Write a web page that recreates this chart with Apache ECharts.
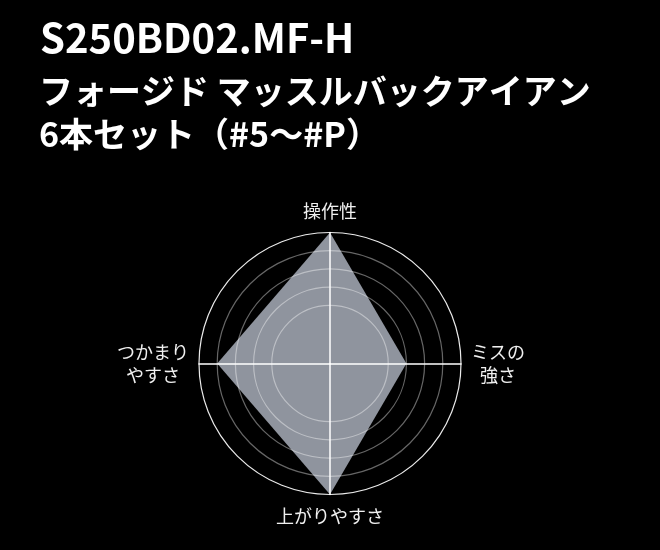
<!DOCTYPE html>
<html>
<head>
<meta charset="utf-8">
<script src="https://cdn.jsdelivr.net/npm/echarts@6/dist/echarts.min.js"></script>
<style>
html,body{margin:0;padding:0;background:#000;}
#chart{width:660px;height:550px;}
</style>
</head>
<body>
<div id="chart"></div>
<script>
var titleLines = ['S250BD02.MF-H', 'フォージド マッスルバックアイアン', '6本セット（#5〜#P）'];
var indicatorNames = ['操作性', 'つかまり\nやすさ', '上がりやすさ', 'ミスの\n強さ'];
var seriesValues = [5, 4, 5, 2];
var scaleMin = -2.2;
var scaleMax = 5;
var ringLevels = [1, 2, 3, 4, 5];

var splitNumber = 36;
var step = (scaleMax - scaleMin) / splitNumber;
var ringColors = [];
for (var k = 0; k <= splitNumber; k++) {
  var v = Math.round((scaleMin + k * step) * 1000) / 1000;
  var c = 'rgba(0,0,0,0)';
  if (ringLevels.indexOf(v) >= 0) c = (v === scaleMax) ? 'rgba(255,255,255,0.92)' : 'rgba(255,255,255,0.4)';
  ringColors.push(c);
}

var chart = echarts.init(document.getElementById('chart'));
var font = '"Noto Sans CJK JP", "Noto Sans", sans-serif';
chart.setOption({
  backgroundColor: '#000',
  title: [
    {text: titleLines[0], left: 35, top: 13, textStyle: {color: '#fff', fontSize: 40, fontWeight: 'bold', fontFamily: font}},
    {text: titleLines[1], left: 34, top: 69, textStyle: {color: '#fff', fontSize: 34, fontWeight: 'bold', fontFamily: font}},
    {text: titleLines[2], left: 34, top: 112, textStyle: {color: '#fff', fontSize: 34, fontWeight: 'bold', fontFamily: font}}
  ],
  radar: {
    z: 5,
    center: [330, 363.5],
    radius: 131,
    startAngle: 90,
    shape: 'circle',
    splitNumber: splitNumber,
    nameGap: 10,
    indicator: indicatorNames.map(function (n) { return {name: n, min: scaleMin, max: scaleMax}; }),
    axisName: {
      color: '#f0f0f0',
      fontSize: 18,
      fontFamily: font,
      formatter: function (name) {
        return name.split('\n').map(function (s) { return '{c|' + s + '}'; }).join('\n');
      },
      rich: {c: {align: 'center', lineHeight: 23, fontSize: 18, color: '#f0f0f0', fontFamily: font}}
    },
    axisLine: {lineStyle: {color: '#ffffff', width: 1.5}},
    splitLine: {lineStyle: {color: ringColors, width: 1.2}},
    splitArea: {show: false},
    axisTick: {show: false},
    axisLabel: {show: false}
  },
  series: [{
    type: 'radar',
    z: 2,
    symbol: 'none',
    lineStyle: {width: 0},
    areaStyle: {color: 'rgb(143,148,158)', opacity: 1},
    data: [{value: seriesValues}]
  }]
});
</script>
</body>
</html>
